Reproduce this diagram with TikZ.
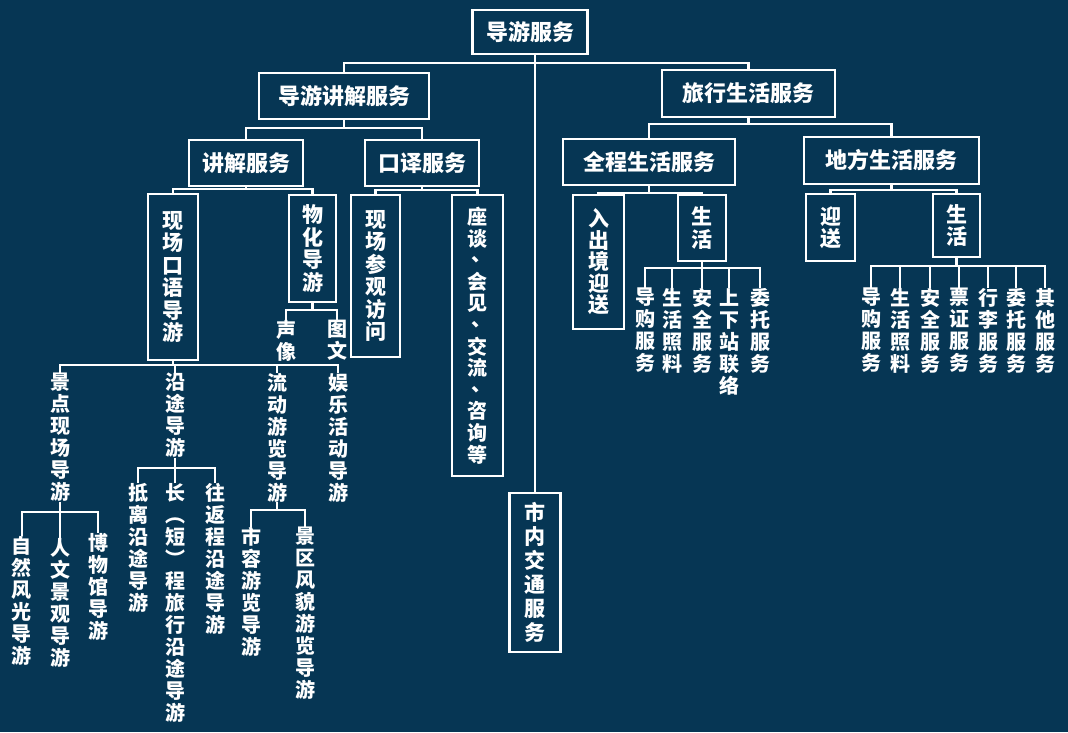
\documentclass[tikz,border=0pt]{standalone}
\usepackage{fontspec}
\setmainfont{Noto Sans CJK SC}
\definecolor{bgc}{HTML}{063654}
\newcommand\dun{\raisebox{0.3em}[0.5em][0pt]{\makebox[1em][l]{\hspace{0.22em}、}}}
\ExplSyntaxOn
\NewDocumentCommand\vt{m}{
  \seq_clear:N \l_tmpa_seq
  \tl_map_inline:nn {#1} {\seq_put_right:Nn \l_tmpa_seq {##1}}
  \seq_use:Nn \l_tmpa_seq {\\}
}
\ExplSyntaxOff
\tikzset{
  ln/.style={draw=white, line width=2.6pt},
  hb/.style={draw=white, line width=2.6pt, inner sep=0pt, text=white, font=\bfseries\fontsize{22}{24}\selectfont},
  vb/.style={draw=white, line width=2.6pt, inner sep=0pt, align=center, text=white, font=\bfseries\fontsize{21}{22.5}\selectfont},
  vtx/.style={inner sep=0pt, align=center, anchor=north, text=white, font=\bfseries\fontsize{20}{22}\selectfont},
}
\begin{document}
\begin{tikzpicture}[x=1pt,y=-1pt]
\fill[bgc] (0,0) rectangle (1068,732);
\useasboundingbox (0,0) rectangle (1068,732);
% horizontal boxes
\node[hb, minimum width=115, minimum height=44] (root) at (530,32) {导游服务};
\node[hb, minimum width=170, minimum height=46] (jj) at (344,96) {导游讲解服务};
\node[hb, minimum width=173, minimum height=47] (lx) at (748.5,93.5) {旅行生活服务};
\node[hb, minimum width=114, minimum height=46] (js) at (246,163) {讲解服务};
\node[hb, minimum width=114, minimum height=46] (ky) at (422,163) {口译服务};
\node[hb, minimum width=172, minimum height=46] (qc) at (649,162) {全程生活服务};
\node[hb, minimum width=175, minimum height=47] (df) at (891.5,160.5) {地方生活服务};
% vertical boxes
\node[vb, minimum width=50, minimum height=166] (xc) at (173,277) {\vt{现场口语导游}};
\node[vb, minimum width=47, minimum height=107] (wh) at (312.5,248.5) {\vt{物化导游}};
\node[vb, minimum width=49, minimum height=162] (cg) at (375.5,276) {\vt{现场参观访问}};
\node[vb, minimum width=51, minimum height=281, font=\bfseries\fontsize{20}{21.6}\selectfont] (zt) at (477.5,335.5) {\vt{座谈\dun 会见\dun 交流\dun 咨询等}};
\node[vb, minimum width=51, minimum height=159, font=\bfseries\fontsize{21}{24}\selectfont] (sn) at (535,572.5) {\vt{市内交通服务}};
\node[vb, minimum width=51, minimum height=134, font=\bfseries\fontsize{21}{21.5}\selectfont] (rc) at (598.5,262) {\vt{入出境迎送}};
\node[vb, minimum width=48, minimum height=66] (sh1) at (702,228) {\vt{生活}};
\node[vb, minimum width=49, minimum height=67] (ys) at (830.5,227.5) {\vt{迎送}};
\node[vb, minimum width=47, minimum height=63] (sh2) at (956.5,225.5) {\vt{生活}};
% text columns
\node[vtx] (sx) at (286,320) {\vt{声像}};
\node[vtx] (tw) at (337,320) {\vt{图文}};
\node[vtx] (jd) at (60,373) {\vt{景点现场导游}};
\node[vtx] (yt) at (175,373) {\vt{沿途导游}};
\node[vtx] (ld) at (277,373) {\vt{流动游览导游}};
\node[vtx] (yl) at (338,373) {\vt{娱乐活动导游}};
\node[vtx] (zr) at (22,536) {\vt{自然风光导游}};
\node[vtx] (rw) at (60,538) {\vt{人文景观导游}};
\node[vtx] (bw) at (98,533) {\vt{博物馆导游}};
\node[vtx] (dl) at (138,483) {\vt{抵离沿途导游}};
\node[vtx] (cd) at (175,483) {\vt{长︵短︶程旅行沿途导游}};
\node[vtx] (wf) at (215,483) {\vt{往返程沿途导游}};
\node[vtx] (sr) at (251,527) {\vt{市容游览导游}};
\node[vtx] (jq) at (305,527) {\vt{景区风貌游览导游}};
\node[vtx] (a1) at (645,288) {\vt{导购服务}};
\node[vtx] (a2) at (672,288) {\vt{生活照料}};
\node[vtx] (a3) at (702,288) {\vt{安全服务}};
\node[vtx] (a4) at (729,288) {\vt{上下站联络}};
\node[vtx] (a5) at (760,288) {\vt{委托服务}};
\node[vtx] (b1) at (871,288) {\vt{导购服务}};
\node[vtx] (b2) at (900,288) {\vt{生活照料}};
\node[vtx] (b3) at (930,288) {\vt{安全服务}};
\node[vtx] (b4) at (959,288) {\vt{票证服务}};
\node[vtx] (b5) at (988,288) {\vt{行李服务}};
\node[vtx] (b6) at (1016,288) {\vt{委托服务}};
\node[vtx] (b7) at (1045,288) {\vt{其他服务}};
% connectors
\draw[ln] (root.south -| sn.north) -- (sn.north);
\draw[ln] (jj.north) -- (jj.north |- 0,63) -- (lx.north |- 0,63) -- (lx.north);
% jj
\draw[ln] (jj.south) -- (jj.south |- 0,128);
\draw[ln] (js.north) -- (js.north |- 0,128) -- (ky.north |- 0,128) -- (ky.north);
% lx
\draw[ln] (lx.south) -- (lx.south |- 0,124);
\draw[ln] (qc.north) -- (qc.north |- 0,124) -- (df.north |- 0,124) -- (df.north);
% js
\draw[ln] (js.south) -- (js.south |- 0,189);
\draw[ln] (xc.north) -- (xc.north |- 0,189) -- (wh.north |- 0,189) -- (wh.north);
% ky
\draw[ln] (ky.south) -- (ky.south |- 0,190);
\draw[ln] (cg.north) -- (cg.north |- 0,190) -- (zt.north |- 0,190) -- (zt.north);
% qc
\draw[ln] (qc.south) -- (qc.south |- 0,193);
\draw[ln] (rc.north) -- (rc.north |- 0,193) -- (sh1.north |- 0,193) -- (sh1.north);
% df
\draw[ln] (df.south) -- (df.south |- 0,190);
\draw[ln] (ys.north) -- (ys.north |- 0,190) -- (sh2.north |- 0,190) -- (sh2.north);
% wh
\draw[ln] (wh.south) -- (wh.south |- 0,310);
\draw[ln] (sx.north) -- (sx.north |- 0,310) -- (tw.north |- 0,310) -- (tw.north);
% xc
\draw[ln] (xc.south) -- (xc.south |- 0,365);
\draw[ln] (jd.north) -- (jd.north |- 0,365) -- (yl.north |- 0,365) -- (yl.north);
\draw[ln] (yt.north) -- (yt.north |- 0,365);
\draw[ln] (ld.north) -- (ld.north |- 0,365);
% jd
\draw[ln] (jd.south) -- (jd.south |- 0,512);
\draw[ln] (zr.north) -- (zr.north |- 0,512) -- (bw.north |- 0,512) -- (bw.north);
\draw[ln] (rw.north) -- (rw.north |- 0,512);
% yt
\draw[ln] (yt.south) -- (yt.south |- 0,468);
\draw[ln] (dl.north) -- (dl.north |- 0,468) -- (wf.north |- 0,468) -- (wf.north);
\draw[ln] (cd.north) -- (cd.north |- 0,468);
% ld
\draw[ln] (ld.south) -- (ld.south |- 0,510);
\draw[ln] (sr.north) -- (sr.north |- 0,510) -- (jq.north |- 0,510) -- (jq.north);
% sh1
\draw[ln] (sh1.south) -- (sh1.south |- 0,268);
\draw[ln] (a1.north) -- (a1.north |- 0,268) -- (a5.north |- 0,268) -- (a5.north);
\foreach \n in {a2,a3,a4} \draw[ln] (\n.north) -- (\n.north |- 0,268);
% sh2
\draw[ln] (sh2.south) -- (sh2.south |- 0,266);
\draw[ln] (b1.north) -- (b1.north |- 0,266) -- (b7.north |- 0,266) -- (b7.north);
\foreach \n in {b2,b3,b4,b5,b6} \draw[ln] (\n.north) -- (\n.north |- 0,266);
\end{tikzpicture}
\end{document}
